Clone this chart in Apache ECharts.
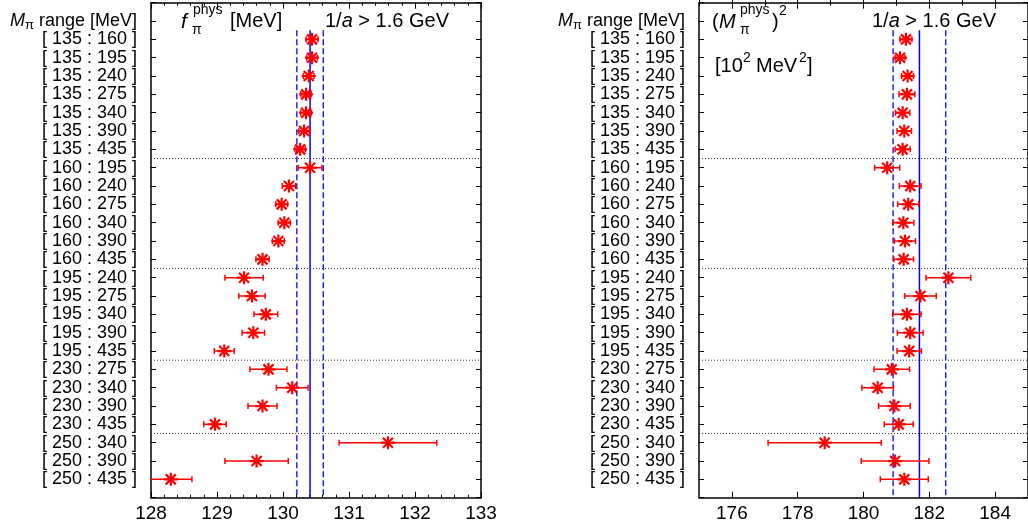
<!DOCTYPE html>
<html><head><meta charset="utf-8">
<script src="https://cdn.jsdelivr.net/npm/echarts@6/dist/echarts.min.js"></script>
<style>html,body{margin:0;padding:0;background:#fff}#c{width:1028px;height:529px}</style>
</head><body><div id="c"></div>
<script>
const rangeLabels = ['[ 135 : 160 ]','[ 135 : 195 ]','[ 135 : 240 ]','[ 135 : 275 ]','[ 135 : 340 ]','[ 135 : 390 ]','[ 135 : 435 ]',
  '[ 160 : 195 ]','[ 160 : 240 ]','[ 160 : 275 ]','[ 160 : 340 ]','[ 160 : 390 ]','[ 160 : 435 ]',
  '[ 195 : 240 ]','[ 195 : 275 ]','[ 195 : 340 ]','[ 195 : 390 ]','[ 195 : 435 ]',
  '[ 230 : 275 ]','[ 230 : 340 ]','[ 230 : 390 ]','[ 230 : 435 ]',
  '[ 250 : 340 ]','[ 250 : 390 ]','[ 250 : 435 ]'];
const fpiValues = [130.44,130.44,130.39,130.35,130.35,130.32,130.26,130.41,130.09,129.98,130.02,129.93,129.69,129.41,129.53,129.74,129.55,129.11,129.78,130.14,129.69,128.97,131.59,129.60,128.30];
const fpiErrors = [0.09,0.08,0.08,0.08,0.08,0.08,0.08,0.18,0.10,0.09,0.09,0.09,0.10,0.29,0.20,0.18,0.17,0.15,0.28,0.24,0.22,0.17,0.74,0.48,0.32];
const mpiValues = [181.29,181.11,181.34,181.32,181.19,181.24,181.19,180.72,181.42,181.36,181.21,181.26,181.22,182.58,181.73,181.32,181.42,181.39,180.86,180.43,180.94,181.07,178.82,180.96,181.24];
const mpiErrors = [0.18,0.15,0.18,0.24,0.22,0.22,0.23,0.38,0.33,0.32,0.32,0.32,0.30,0.68,0.48,0.43,0.39,0.37,0.54,0.48,0.48,0.44,1.72,1.03,0.73];
const fpiBand = [130.21, 130.41, 130.61];
const mpiBand = [180.90, 181.70, 182.50];
const separators = [8.5, 14.5, 19.5, 23.5];
const fpiRange = [128, 133];
const mpiRange = [175, 185];
const mpiTickLabels = [176, 178, 180, 182, 184];

const FONT = 'Liberation Sans, Arial, Helvetica, sans-serif';
const RED = '#ff0000';
const BLUE = '#0000ff';

function rowPos(i) { return i + 2; }

function yAxisCfg(gridIndex, position, showLabels) {
  return {
    type: 'value', gridIndex, position, inverse: true, min: 0, max: 27, interval: 1,
    axisLine: { show: true, lineStyle: { color: '#000', width: 1.5 } },
    axisTick: { show: true, inside: true, length: 5, lineStyle: { color: '#000', width: 1 } },
    splitLine: { show: false },
    axisLabel: {
      show: showLabels, margin: 14, fontSize: 18, color: '#000', fontFamily: FONT,
      formatter: v => v === 1 ? '{it|M}{sub|π}{n| range [MeV]}' : (v >= 2 && v <= 26 ? rangeLabels[v - 2] : ''),
      rich: {
        it: { fontSize: 18, fontStyle: 'italic', fontFamily: FONT, color: '#000' },
        sub: { fontSize: 13, fontFamily: FONT, color: '#000', padding: [9, 0, 0, 0] },
        n: { fontSize: 18, fontFamily: FONT, color: '#000' }
      }
    }
  };
}

function xAxisCfg(gridIndex, position, opts) {
  return Object.assign({
    type: 'value', gridIndex, position,
    axisLine: { show: true, onZero: false, lineStyle: { color: '#000', width: 1.5 } },
    axisTick: { show: true, inside: true, length: 6, lineStyle: { color: '#000', width: 1 } },
    splitLine: { show: false },
    axisLabel: { show: position === 'bottom', margin: 7, fontSize: 19, color: '#000', fontFamily: FONT }
  }, opts);
}

const xAxes = [
  xAxisCfg(0, 'bottom', { min: fpiRange[0], max: fpiRange[1], interval: 1,
    minorTick: { show: true, splitNumber: 5, length: 3, lineStyle: { color: '#000', width: 1 } } }),
  xAxisCfg(0, 'top', { min: fpiRange[0], max: fpiRange[1], interval: 1,
    minorTick: { show: true, splitNumber: 5, length: 3, lineStyle: { color: '#000', width: 1 } } }),
  xAxisCfg(1, 'bottom', { min: mpiRange[0], max: mpiRange[1],
    axisTick: { show: true, inside: true, length: 6, customValues: mpiTickLabels, lineStyle: { color: '#000', width: 1 } },
    axisLabel: { show: true, margin: 7, fontSize: 19, color: '#000', fontFamily: FONT, customValues: mpiTickLabels } }),
  xAxisCfg(1, 'bottom', { min: mpiRange[0], max: mpiRange[1], interval: 1,
    axisLine: { show: false }, axisLabel: { show: false },
    axisTick: { show: true, inside: true, length: 3, lineStyle: { color: '#000', width: 1 } } }),
  xAxisCfg(1, 'top', { min: mpiRange[0], max: mpiRange[1],
    axisTick: { show: true, inside: true, length: 6, customValues: mpiTickLabels, lineStyle: { color: '#000', width: 1 } },
    axisLabel: { show: false } }),
  xAxisCfg(1, 'top', { min: mpiRange[0], max: mpiRange[1], interval: 1,
    axisLine: { show: false }, axisLabel: { show: false },
    axisTick: { show: true, inside: true, length: 3, lineStyle: { color: '#000', width: 1 } } })
];

const yAxes = [
  yAxisCfg(0, 'left', true), yAxisCfg(0, 'right', false),
  yAxisCfg(1, 'left', true), yAxisCfg(1, 'right', false)
];

function renderPoint(params, api) {
  const x = api.value(0), y = api.value(1), e = api.value(2);
  const c = api.coord([x, y]);
  const l = api.coord([x - e, y]);
  const r = api.coord([x + e, y]);
  const eb = { stroke: RED, lineWidth: 1.5 };
  const st = { stroke: RED, lineWidth: 2.2 };
  const cap = 3, R = 7, D = 5;
  return {
    type: 'group',
    children: [
      { type: 'line', shape: { x1: l[0], y1: c[1], x2: r[0], y2: c[1] }, style: eb },
      { type: 'line', shape: { x1: l[0], y1: c[1] - cap, x2: l[0], y2: c[1] + cap }, style: eb },
      { type: 'line', shape: { x1: r[0], y1: c[1] - cap, x2: r[0], y2: c[1] + cap }, style: eb },
      { type: 'line', shape: { x1: c[0] - R, y1: c[1], x2: c[0] + R, y2: c[1] }, style: st },
      { type: 'line', shape: { x1: c[0], y1: c[1] - R + 0.5, x2: c[0], y2: c[1] + R - 0.5 }, style: st },
      { type: 'line', shape: { x1: c[0] - D, y1: c[1] - D, x2: c[0] + D, y2: c[1] + D }, style: st },
      { type: 'line', shape: { x1: c[0] - D, y1: c[1] + D, x2: c[0] + D, y2: c[1] - D }, style: st }
    ]
  };
}

function pointSeries(xi, yi, vals, errs) {
  return {
    type: 'custom', xAxisIndex: xi, yAxisIndex: yi, clip: true, z: 10, silent: true,
    renderItem: renderPoint,
    encode: { x: 0, y: 1 },
    data: vals.map((v, i) => [v, rowPos(i), errs[i]])
  };
}

function vline(xi, yi, v, dashed) {
  return {
    type: 'line', xAxisIndex: xi, yAxisIndex: yi, symbol: 'none', silent: true, z: 3,
    lineStyle: { color: BLUE, width: dashed ? 1.3 : 1.5, type: dashed ? [6, 3] : 'solid' },
    data: [[v, 1.5], [v, 27]]
  };
}

function hsep(xi, yi, range, s) {
  return {
    type: 'line', xAxisIndex: xi, yAxisIndex: yi, symbol: 'none', silent: true, z: 2,
    lineStyle: { color: '#333', width: 1, type: [1, 2] },
    data: [[range[0], s], [range[1], s]]
  };
}

const series = [];
separators.forEach(s => { series.push(hsep(0, 0, fpiRange, s)); series.push(hsep(2, 2, mpiRange, s)); });
fpiBand.forEach((v, k) => series.push(vline(0, 0, v, k !== 1)));
mpiBand.forEach((v, k) => series.push(vline(2, 2, v, k !== 1)));
series.push(pointSeries(0, 0, fpiValues, fpiErrors));
series.push(pointSeries(2, 2, mpiValues, mpiErrors));

function txt(s, x, y, size, italic) {
  return {
    type: 'text', x: x, y: y, silent: true, z: 20,
    style: { text: s, font: (italic ? 'italic ' : '') + size + 'px ' + FONT, fill: '#000',
      textAlign: 'left', textVerticalAlign: 'middle', align: 'left', verticalAlign: 'middle' }
  };
}
function richTxt(s, x, y) {
  return {
    type: 'text', x: x, y: y, silent: true, z: 20,
    style: { text: s, fill: '#000', fontSize: 20, fontFamily: FONT,
      textAlign: 'left', textVerticalAlign: 'middle', align: 'left', verticalAlign: 'middle',
      rich: { n: { fontSize: 20, fontFamily: FONT, fill: '#000' },
              i: { fontSize: 20, fontFamily: FONT, fontStyle: 'italic', fill: '#000' } } }
  };
}

const graphics = [
  txt('f', 181, 22, 21, true),
  txt('phys', 193, 10, 14, false),
  txt('π', 192, 30, 14, false),
  txt('[MeV]', 230, 21, 20, false),
  richTxt('{n|1/}{i|a}{n| > 1.6 GeV}', 325, 21),
  txt('(', 712, 22, 20, false),
  txt('M', 719, 22, 20, true),
  txt('phys', 740, 10, 14, false),
  txt('π', 740, 30, 14, false),
  txt(')', 772, 22, 20, false),
  txt('2', 779, 11, 14, false),
  richTxt('{n|1/}{i|a}{n| > 1.6 GeV}', 872, 21),
  txt('[10', 715, 66, 20, false),
  txt('2', 743, 58, 14, false),
  txt('MeV', 756, 66, 20, false),
  txt('2', 799, 58, 14, false),
  txt(']', 807, 66, 20, false)
];

const chart = echarts.init(document.getElementById('c'), null, { renderer: 'canvas' });
chart.setOption({
  animation: false,
  backgroundColor: '#fff',
  grid: [
    { left: 151, top: 2.7, width: 330, height: 495, containLabel: false },
    { left: 699, top: 2.7, width: 330, height: 495, containLabel: false }
  ],
  xAxis: xAxes,
  yAxis: yAxes,
  series: series,
  graphic: graphics
});
</script>
</body></html>
